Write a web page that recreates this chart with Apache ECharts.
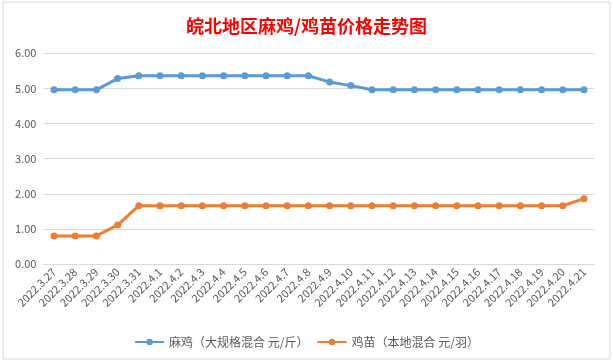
<!DOCTYPE html>
<html><head><meta charset="utf-8">
<script src="https://cdn.jsdelivr.net/npm/echarts@6/dist/echarts.min.js"></script>
<style>html,body{margin:0;padding:0;background:#fff}#c{width:613px;height:362px}</style>
</head><body><div id="c"></div>
<script>
const categories = ['2022.3.27','2022.3.28','2022.3.29','2022.3.30','2022.3.31','2022.4.1','2022.4.2','2022.4.3','2022.4.4','2022.4.5','2022.4.6','2022.4.7','2022.4.8','2022.4.9','2022.4.10','2022.4.11','2022.4.12','2022.4.13','2022.4.14','2022.4.15','2022.4.16','2022.4.17','2022.4.18','2022.4.19','2022.4.20','2022.4.21'];
const maji = [4.96,4.96,4.96,5.28,5.36,5.36,5.36,5.36,5.36,5.36,5.36,5.36,5.36,5.18,5.08,4.96,4.96,4.96,4.96,4.96,4.96,4.96,4.96,4.96,4.96,4.96];
const jimiao = [0.80,0.80,0.80,1.11,1.66,1.66,1.66,1.66,1.66,1.66,1.66,1.66,1.66,1.66,1.66,1.66,1.66,1.66,1.66,1.66,1.66,1.66,1.66,1.66,1.66,1.86];
const seriesNames = ['麻鸡（大规格混合 元/斤）','鸡苗（本地混合 元/羽）'];
const titleText = '皖北地区麻鸡/鸡苗价格走势图';

const FONT = '"Noto Sans CJK SC", "Liberation Sans", sans-serif';
const chart = echarts.init(document.getElementById('c'), null, {renderer:'canvas'});
chart.setOption({
  animation:false,
  backgroundColor:'#fff',
  title:{text:titleText,left:'center',top:12,textStyle:{color:'#ff0000',fontSize:18,fontWeight:'bold',fontFamily:FONT}},
  graphic:[{type:'rect',shape:{x:3,y:2,width:607,height:357},style:{fill:'none',stroke:'#d9d9d9',lineWidth:1},silent:true}],
  grid:{left:43.4,right:18.4,top:53.3,bottom:98},
  legend:{data:seriesNames,left:'center',top:331,itemWidth:29,itemHeight:8,itemGap:8,
    textStyle:{color:'#595959',fontSize:12,fontFamily:FONT}},
  xAxis:{type:'category',data:categories,boundaryGap:true,
    axisLine:{lineStyle:{color:'#d9d9d9'}},axisTick:{show:false},
    axisLabel:{rotate:45,interval:0,color:'#595959',fontSize:11,fontFamily:FONT,margin:6}},
  yAxis:{type:'value',min:0,max:6,interval:1,
    axisLine:{show:false},axisTick:{show:false},
    splitLine:{lineStyle:{color:'#d9d9d9'}},
    axisLabel:{color:'#595959',fontSize:11,fontFamily:FONT,margin:7,formatter:v=>v.toFixed(2)}},
  series:[
    {name:seriesNames[0],type:'line',data:maji,symbol:'circle',symbolSize:7,
      itemStyle:{color:'#5b9bd5'},lineStyle:{color:'#5b9bd5',width:3}},
    {name:seriesNames[1],type:'line',data:jimiao,symbol:'circle',symbolSize:7,
      itemStyle:{color:'#ed7d31'},lineStyle:{color:'#ed7d31',width:3}}
  ]
});
</script></body></html>
